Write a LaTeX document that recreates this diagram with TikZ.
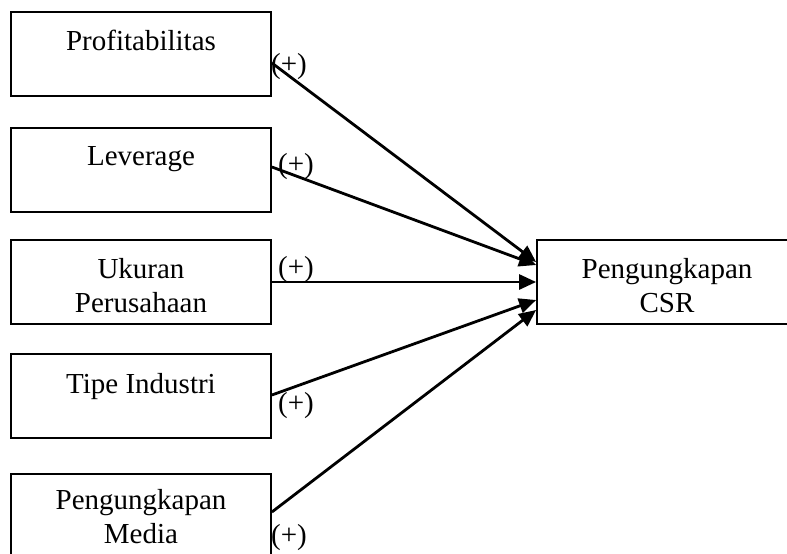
\documentclass[tikz,border=0pt]{standalone}
\usepackage{fontspec}
\setmainfont{Liberation Serif}
\usetikzlibrary{arrows.meta}

\begin{document}
\begin{tikzpicture}[x=1pt,y=-1pt]
    	\tikzstyle{varbox} = 
    	[draw,
    	line width = 1.8pt,
    	minimum width = 260pt,
    	minimum height = 84pt,
    	inner sep = 0pt
    	]
    	\tikzstyle{boxtext} = 
    	[inner sep = 0pt,
    	align = center,
    	font = \fontsize{29}{34}\selectfont
    	]
    	\tikzstyle{myarrow} = 
    	[line width = 2.8pt,
    	-{Triangle[length=17pt,width=15pt]}
    	]
    	\tikzstyle{plus} = 
    	[inner sep = 0pt,
    	font = \fontsize{29}{34}\selectfont
    	]

        \clip (0,0) rectangle (787,554);

        \node[varbox] (prof)  at (141,54)  {};
        \node[varbox] (lev)   at (141,170) {};
        \node[varbox] (ukur)  at (141,282) {};
        \node[varbox] (tipe)  at (141,396) {};
        \node[varbox] (media) at (141,516) {};
        \node[varbox] (csr)   at (667,282) {};

        \node[boxtext, anchor=base] (t-prof)  at ([yshift=4pt]prof.center)  {Profitabilitas};
        \node[boxtext, anchor=base] (t-lev)   at ([yshift=5pt]lev.center)   {Leverage};
        \node[boxtext] (t-ukur)  at ([yshift=-3.5pt]ukur.center)  {Ukuran\\Perusahaan};
        \node[boxtext, anchor=base] (t-tipe)  at ([yshift=3pt]tipe.center)  {Tipe Industri};
        \node[boxtext] (t-media) at ([yshift=-1pt]media.center) {Pengungkapan\\Media};
        \node[boxtext] (t-csr)   at ([yshift=-3.5pt]csr.center)   {Pengungkapan\\CSR};

        \node[plus] (p-prof)  at (289,67)  {(+)};
        \node[plus] (p-lev)   at (296,167) {(+)};
        \node[plus] (p-ukur)  at (296,270) {(+)};
        \node[plus] (p-tipe)  at (296,406) {(+)};
        \node[plus] (p-media) at (289,538) {(+)};

        \draw
        ([yshift=-9pt]prof.east)  edge[myarrow] ([yshift=20pt]csr.west)
        ([yshift=3pt]lev.east)    edge[myarrow] ([yshift=17pt]csr.west)
        (ukur.east)               edge[myarrow] (csr.west)
        ([yshift=1pt]tipe.east)   edge[myarrow] ([yshift=-18pt]csr.west)
        ([yshift=4pt]media.east)  edge[myarrow] ([yshift=-28pt]csr.west)
		;
    \end{tikzpicture}
\end{document}
